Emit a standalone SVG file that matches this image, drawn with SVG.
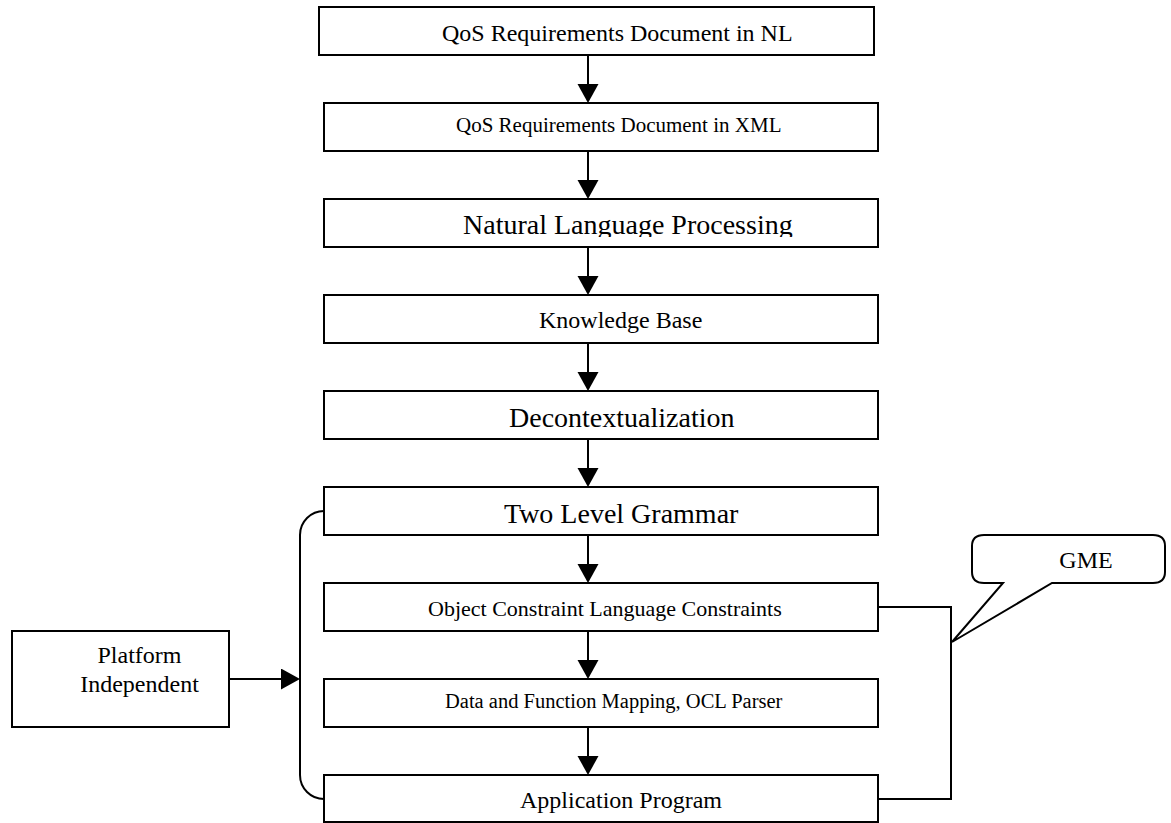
<svg xmlns="http://www.w3.org/2000/svg" width="1171" height="823" viewBox="0 0 1171 823">
<style>
.box{fill:#fff;stroke:#000;stroke-width:2}
.t{font-family:"Liberation Serif","Times New Roman",serif;fill:#000}
.c{fill:none;stroke:#000;stroke-width:2}
</style>
<defs>
<marker id="ah" markerUnits="userSpaceOnUse" markerWidth="20" markerHeight="22" refX="14" refY="10.5" orient="auto">
<path d="M0,0 L19,10.5 L0,21 Z" fill="#000"/>
</marker>
<clipPath id="clipNlp"><rect x="324" y="199" width="554" height="38"/></clipPath>
</defs>
<rect width="1171" height="823" fill="#fff"/>

<g id="connectors">
<line class="c" x1="588" y1="55" x2="588" y2="98" marker-end="url(#ah)"/>
<line class="c" x1="588" y1="151" x2="588" y2="194" marker-end="url(#ah)"/>
<line class="c" x1="588" y1="247" x2="588" y2="290" marker-end="url(#ah)"/>
<line class="c" x1="588" y1="343" x2="588" y2="386" marker-end="url(#ah)"/>
<line class="c" x1="588" y1="439" x2="588" y2="482" marker-end="url(#ah)"/>
<line class="c" x1="588" y1="535" x2="588" y2="578" marker-end="url(#ah)"/>
<line class="c" x1="588" y1="631" x2="588" y2="674" marker-end="url(#ah)"/>
<line class="c" x1="588" y1="727" x2="588" y2="770" marker-end="url(#ah)"/>
<path class="c" d="M324,511 A24,24 0 0 0 300,535 L300,775 A24,24 0 0 0 324,799"/>
<line class="c" x1="229" y1="679" x2="295" y2="679" marker-end="url(#ah)"/>
<path class="c" d="M878,607 L951,607 L951,799 L878,799"/>
</g>

<g id="n1"><rect class="box" x="319" y="7" width="555" height="48"/><text class="t" x="442" y="41" font-size="24">QoS Requirements Document in NL</text></g>
<g id="n2"><rect class="box" x="324" y="103" width="554" height="48"/><text class="t" x="456" y="132" font-size="21">QoS Requirements Document in XML</text></g>
<g id="n3"><rect class="box" x="324" y="199" width="554" height="48"/><text class="t" x="463" y="234" font-size="28" clip-path="url(#clipNlp)">Natural Language Processing</text></g>
<g id="n4"><rect class="box" x="324" y="295" width="554" height="48"/><text class="t" x="539" y="328" font-size="24">Knowledge Base</text></g>
<g id="n5"><rect class="box" x="324" y="391" width="554" height="48"/><text class="t" x="509" y="427" font-size="28">Decontextualization</text></g>
<g id="n6"><rect class="box" x="324" y="487" width="554" height="48"/><text class="t" x="504" y="523" font-size="28">Two Level Grammar</text></g>
<g id="n7"><rect class="box" x="324" y="583" width="554" height="48"/><text class="t" x="428" y="616" font-size="22">Object Constraint Language Constraints</text></g>
<g id="n8"><rect class="box" x="324" y="679" width="554" height="48"/><text class="t" x="445" y="708" font-size="20.5">Data and Function Mapping, OCL Parser</text></g>
<g id="n9"><rect class="box" x="324" y="775" width="554" height="47"/><text class="t" x="520" y="808" font-size="24">Application Program</text></g>

<g id="platform"><rect class="box" x="12" y="631" width="217" height="96"/>
<text class="t" font-size="24" text-anchor="middle"><tspan x="139.5" y="663">Platform</tspan><tspan x="139.5" y="692">Independent</tspan></text></g>

<g id="gme"><path class="box" d="M984,535 L1153,535 Q1165,535 1165,546 L1165,572 Q1165,583 1153,583 L1052,583 L952,642 L1003,583 L984,583 Q972,583 972,572 L972,546 Q972,535 984,535 Z"/>
<text class="t" x="1086" y="568" font-size="24" text-anchor="middle">GME</text></g>
</svg>
